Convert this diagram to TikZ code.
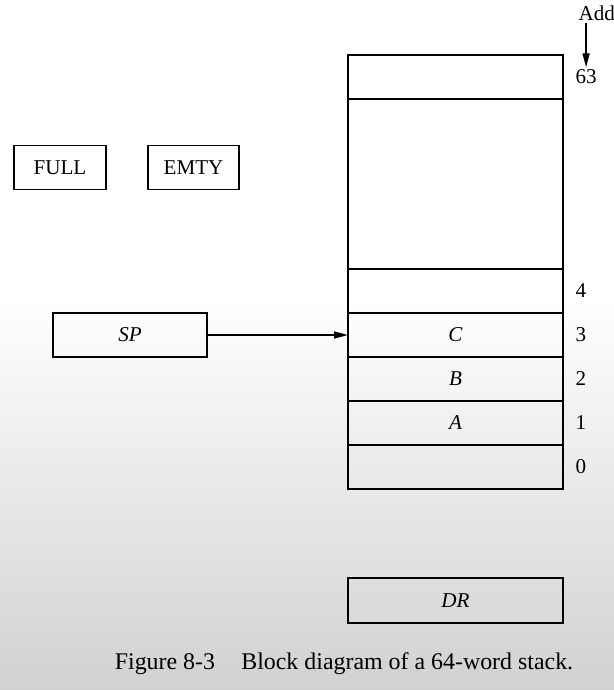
\documentclass[tikz,border=0pt]{standalone}
\usepackage{fontspec}
\setmainfont{Liberation Serif}
\usetikzlibrary{arrows.meta, positioning}
\tikzset{
  every picture/.style={line width=0.9pt, font=\fontsize{12}{14}\selectfont},
  cell/.style={draw, minimum width=4.3cm, minimum height=0.88cm, outer sep=0pt, inner sep=0pt, font=\fontsize{12}{14}\selectfont\itshape},
  reg/.style={draw, minimum height=0.88cm, outer sep=0pt, inner sep=0pt},
  addr/.style={inner sep=1pt},
  arrow/.style={-{Triangle[length=0.28cm, width=0.14cm]}},
}

\begin{document}
\begin{tikzpicture}
  % page and faded background
  \fill[white] (0,0) rectangle (12.28,-6);
  \shade[top color=white, bottom color=black!18] (0,-6) rectangle (12.28,-13.8);
  \useasboundingbox (0,0) rectangle (12.28,-13.8);

  % the stack memory
  \node[cell] (w63) at (9.11,-1.54) {};
  \node[cell, minimum height=3.4cm, below=0pt of w63] (wgap) {};
  \node[cell, below=0pt of wgap] (w4) {};
  \node[cell, below=0pt of w4] (w3) {C};
  \node[cell, below=0pt of w3] (w2) {B};
  \node[cell, below=0pt of w2] (w1) {A};
  \node[cell, below=0pt of w1] (w0) {};

  % addresses
  \node[addr, right=0.2cm of w63] (a63) {63};
  \foreach \n in {4,3,2,1,0}
    \node[addr, right=0.2cm of w\n] (a\n) {\n};
  \node[addr, anchor=west] (address) at (11.52,-0.26) {Address};
  \draw[arrow] (a63 |- address.south) -- (a63.north);

  % registers
  \node[reg, minimum width=1.84cm] (full) at (1.2,-3.35) {FULL};
  \node[reg, minimum width=1.82cm] (emty) at (3.87,-3.35) {EMTY};
  \node[reg, minimum width=3.08cm, font=\fontsize{12}{14}\selectfont\itshape] (sp) at (2.6,-6.7) {SP};
  \node[cell, minimum height=0.9cm, below=1.78cm of w0] (dr) {DR};

  \draw[arrow] (sp) -- (w3);

  \node[font=\fontsize{13.6}{16}\selectfont] (caption) at (6.88,-13.28) {Figure 8-3\hspace{1.1em}Block diagram of a 64-word stack.};
\end{tikzpicture}
\end{document}
